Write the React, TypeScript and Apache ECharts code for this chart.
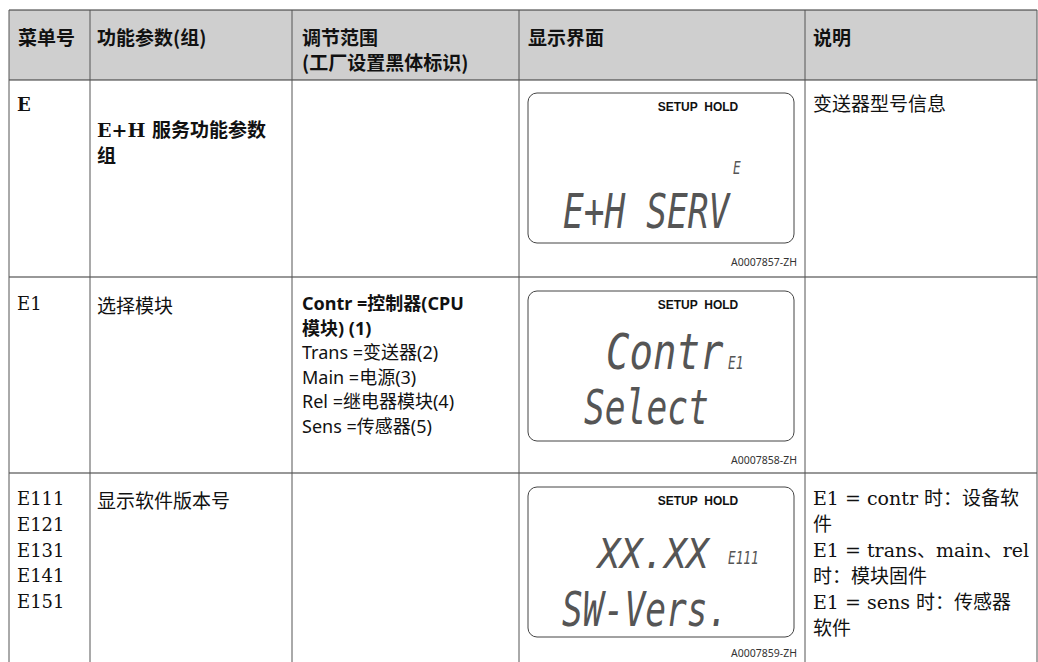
import React, { useEffect, useRef } from "react";
import * as echarts from "echarts";

// ---- table content ----
const headers = ["菜单号", "功能参数(组)", "调节范围\n(工厂设置黑体标识)", "显示界面", "说明"];

const colCodes = ["E", "E1", "E111\nE121\nE131\nE141\nE151"];
const colFunctions = ["E+H 服务功能参数\n组", "选择模块", "显示软件版本号"];
const rangeBold = ["", "Contr =控制器(CPU\n模块) (1)", ""];
const rangeNormal = ["", "Trans =变送器(2)\nMain =电源(3)\nRel =继电器模块(4)\nSens =传感器(5)", ""];
const descriptions = [
  "变送器型号信息",
  "",
  "E1 = contr 时：设备软\n件\nE1 = trans、main、rel\n时：模块固件\nE1 = sens 时：传感器\n软件",
];
const lcdMain = ["E+H SERV", "Select", "SW-Vers."];
const lcdTop = ["", "Contr", "XX.XX"];
const lcdCode = ["E", "E1", "E111"];
const figureIds = ["A0007857-ZH", "A0007858-ZH", "A0007859-ZH"];

// ---- layout ----
const COLS = [9, 90, 292, 519, 805, 1037];
const ROWS = [10, 80, 277, 473, 662];
const LINE = "#555";
const CJK = '"Noto Sans CJK SC", sans-serif';
const SERIF = '"DejaVu Serif", "Noto Sans CJK SC", serif';
const SANS = '"Noto Sans", "Noto Sans CJK SC", sans-serif';
const LCD = '"DejaVu Sans Mono", monospace';
const LCD_FILL = "#555";

function buildGraphics() {
  const g: any[] = [];
  g.push({ type: "rect", shape: { x: COLS[0], y: ROWS[0], width: COLS[5] - COLS[0], height: ROWS[1] - ROWS[0] }, style: { fill: "#cfcfcf" } });
  ROWS.slice(0, 4).forEach((y) => {
    g.push({ type: "line", shape: { x1: COLS[0], y1: y, x2: COLS[5], y2: y }, style: { stroke: "#333", lineWidth: 1.2 } });
  });
  COLS.forEach((x) => {
    g.push({ type: "line", shape: { x1: x, y1: ROWS[0], x2: x, y2: 662 }, style: { stroke: LINE, lineWidth: 1 } });
  });
  const hx = [18, 97, 302, 528, 813];
  headers.forEach((h, i) => {
    g.push({
      type: "text", x: hx[i], y: 24,
      style: { text: h, font: `bold 19px ${CJK}`, fill: "#111", lineHeight: 25, verticalAlign: "top" },
    });
  });
  const rowTop = [91, 291, 486];
  const rowLH = [26, 24.5, 25.7];
  colCodes.forEach((c, i) => {
    g.push({
      type: "text", x: 17, y: rowTop[i],
      style: { text: c, font: `${i === 0 ? "bold " : ""}18px ${SERIF}`, fill: "#111", lineHeight: rowLH[i], verticalAlign: "top" },
    });
  });
  colFunctions.forEach((c, i) => {
    g.push({
      type: "text", x: 97, y: i === 0 ? 117 : rowTop[i],
      style: { text: c, font: `${i === 0 ? "bold " : ""}19px ${i === 0 ? SERIF : CJK}`, fill: "#111", lineHeight: 26, verticalAlign: "top" },
    });
  });
  rangeBold.forEach((c, i) => {
    if (!c) return;
    g.push({ type: "text", x: 302, y: rowTop[i], style: { text: c, font: `bold 18px ${SANS}`, fill: "#111", lineHeight: 24.5, verticalAlign: "top" } });
    g.push({ type: "text", x: 302, y: rowTop[i] + 49, style: { text: rangeNormal[i], font: `18px ${SANS}`, fill: "#111", lineHeight: 24.5, verticalAlign: "top" } });
  });
  descriptions.forEach((c, i) => {
    if (!c) return;
    g.push({ type: "text", x: 813, y: i === 0 ? 91 : 485, style: { text: c, font: `19px ${SERIF}`, fill: "#111", lineHeight: 26, verticalAlign: "top" } });
  });
  const boxTop = [93, 291, 487];
  boxTop.forEach((bt, i) => {
    g.push({ type: "rect", shape: { x: 528, y: bt, width: 266, height: 150, r: 9 }, style: { fill: "#fff", stroke: "#444", lineWidth: 1 } });
    g.push({ type: "text", x: 698, y: bt + 14, style: { text: "SETUP  HOLD", font: `bold 12px "Liberation Sans", Arial, sans-serif`, fill: "#111", align: "center", verticalAlign: "middle" } });
    g.push({ type: "text", x: 797, y: Math.min(bt + 169, 653), style: { text: figureIds[i], font: `10.5px "Noto Sans", sans-serif`, fill: "#333", align: "right", verticalAlign: "middle" } });
  });
  const mainPos = [[563, 211], [584, 407], [562, 609]];
  lcdMain.forEach((t, i) => {
    g.push({ type: "text", x: mainPos[i][0], y: mainPos[i][1], scaleX: 0.72, style: { text: t, font: `italic 48px ${LCD}`, fill: LCD_FILL, verticalAlign: "middle" } });
  });
  const topPos = [[0, 0], [606, 352], [598, 554]];
  lcdTop.forEach((t, i) => {
    if (!t) return;
    g.push({ type: "text", x: topPos[i][0], y: topPos[i][1], scaleX: i === 1 ? 0.78 : 0.92, style: { text: t, font: `italic ${i === 1 ? 50 : 40}px ${LCD}`, fill: LCD_FILL, verticalAlign: "middle" } });
  });
  const codePos = [[733, 168], [728, 363], [728, 558]];
  lcdCode.forEach((t, i) => {
    g.push({ type: "text", x: codePos[i][0], y: codePos[i][1], scaleX: 0.75, style: { text: t, font: `italic 17px ${LCD}`, fill: "#555", verticalAlign: "middle" } });
  });
  return g;
}

export default function App() {
  const ref = useRef<HTMLDivElement>(null);
  useEffect(() => {
    if (!ref.current) return;
    const chart = echarts.init(ref.current, undefined, { renderer: "svg" });
    chart.setOption({ animation: false, backgroundColor: "#fff", graphic: { elements: buildGraphics() } });
    return () => chart.dispose();
  }, []);
  return <div ref={ref} style={{ position: "absolute", left: 0, top: 0, width: 1038, height: 662 }} />;
}
